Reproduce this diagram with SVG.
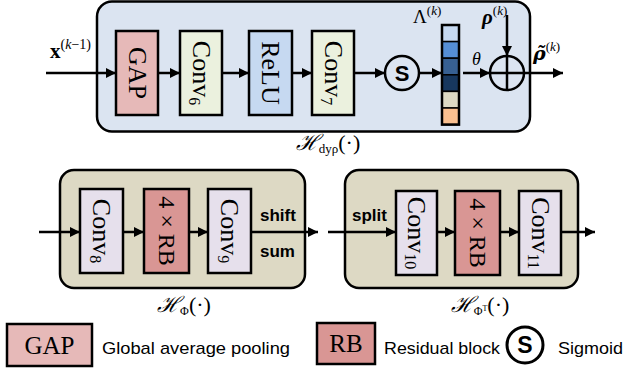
<svg xmlns="http://www.w3.org/2000/svg" width="635" height="370" viewBox="0 0 635 370">
<defs>
<marker id="ah" viewBox="0 0 10 10" refX="10" refY="5" markerWidth="10" markerHeight="10" markerUnits="userSpaceOnUse" orient="auto">
<path d="M0,0 L10,5 L0,10 Z" fill="#000"/>
</marker>
<style>
.cont{stroke:#000;stroke-width:2.5}
.box{stroke:#000;stroke-width:2.5}
.blue{fill:#dbe4f1}
.tan{fill:#ddd9c4}
.gap{fill:#e6b9b8}
.conv{fill:#ebf1de}
.relu{fill:#c6d9f1}
.lav{fill:#e6e0ec}
.rb{fill:#d99694}
.serif{font-family:"Liberation Serif","DejaVu Serif",serif;fill:#000}
.bt{font-family:"Liberation Serif","DejaVu Serif",serif;font-size:26px}
.sans{font-family:"Liberation Sans","Noto Sans",sans-serif;fill:#000}
.lbl{font-family:"Liberation Sans",sans-serif;font-weight:bold;font-size:17px}
.arr{stroke:#000;stroke-width:2.5;fill:none;marker-end:url(#ah)}
.ln{stroke:#000;stroke-width:2.5;fill:none}
</style>
</defs>

<g id="container-top"><rect class="cont blue" x="97" y="1.5" width="433" height="130" rx="15"/></g>
<g id="container-phi"><rect class="cont tan" x="60" y="170" width="245" height="118" rx="14"/></g>
<g id="container-phiT"><rect class="cont tan" x="345" y="170" width="233" height="118" rx="14"/></g>

<g id="connectors">
<line class="arr" x1="46" y1="73" x2="116" y2="73"/>
<line class="arr" x1="158" y1="73" x2="180" y2="73"/>
<line class="arr" x1="222" y1="73" x2="249" y2="73"/>
<line class="arr" x1="292" y1="73" x2="312" y2="73"/>
<line class="arr" x1="354" y1="73" x2="385" y2="73"/>
<line class="arr" x1="419" y1="73" x2="442" y2="73"/>
<line class="arr" x1="463" y1="73" x2="490" y2="73"/>
<line class="arr" x1="524" y1="73" x2="563" y2="73"/>
<line class="arr" x1="507" y1="15" x2="507" y2="56"/>
<line class="arr" x1="39" y1="232" x2="80" y2="232"/>
<line class="arr" x1="123" y1="232" x2="144" y2="232"/>
<line class="arr" x1="189" y1="232" x2="208" y2="232"/>
<line class="arr" x1="251" y1="232" x2="318" y2="232"/>
<line class="arr" x1="328" y1="232" x2="396" y2="232"/>
<line class="arr" x1="437" y1="232" x2="455" y2="232"/>
<line class="arr" x1="500" y1="232" x2="519" y2="232"/>
<line class="arr" x1="561" y1="232" x2="595" y2="232"/>
</g>

<g id="gap"><rect class="box gap" x="116" y="31" width="42" height="84"/>
<text class="bt" transform="translate(137,73) rotate(90)" text-anchor="middle" dominant-baseline="central">GAP</text></g>
<g id="conv6"><rect class="box conv" x="180" y="31" width="42" height="84"/>
<text class="bt" transform="translate(201,73) rotate(90)" text-anchor="middle" dominant-baseline="central">Conv<tspan font-size="16" dy="6">6</tspan></text></g>
<g id="relu"><rect class="box relu" x="249" y="31" width="43" height="84"/>
<text class="bt" transform="translate(270.5,73) rotate(90)" text-anchor="middle" dominant-baseline="central">ReLU</text></g>
<g id="conv7"><rect class="box conv" x="312" y="31" width="42" height="84"/>
<text class="bt" transform="translate(333,73) rotate(90)" text-anchor="middle" dominant-baseline="central">Conv<tspan font-size="16" dy="6">7</tspan></text></g>
<g id="sigmoid"><circle cx="402" cy="73" r="17" fill="none" stroke="#000" stroke-width="2.5"/>
<text class="sans" x="402" y="81" font-size="22" font-weight="bold" text-anchor="middle">S</text></g>
<g id="lambda">
<rect x="442" y="25" width="17" height="16.6" fill="#c6d9f1" stroke="#000" stroke-width="1.5"/>
<rect x="442" y="41.6" width="17" height="16.6" fill="#558ed5" stroke="#000" stroke-width="1.5"/>
<rect x="442" y="58.2" width="17" height="16.6" fill="#376092" stroke="#000" stroke-width="1.5"/>
<rect x="442" y="74.8" width="17" height="16.6" fill="#17375e" stroke="#000" stroke-width="1.5"/>
<rect x="442" y="91.4" width="17" height="16.6" fill="#ddd9c4" stroke="#000" stroke-width="1.5"/>
<rect x="442" y="108" width="17" height="16.6" fill="#fac090" stroke="#000" stroke-width="1.5"/>
<rect x="442" y="25" width="17" height="99.6" fill="none" stroke="#000" stroke-width="2.5"/>
</g>
<g id="plus"><circle cx="507" cy="73" r="17" fill="none" stroke="#000" stroke-width="2.5"/>
<line class="ln" x1="490" y1="73" x2="524" y2="73"/><line class="ln" x1="507" y1="56" x2="507" y2="90"/></g>

<g id="conv8"><rect class="box lav" x="80" y="189" width="43" height="84"/>
<text class="bt" transform="translate(101.5,231) rotate(90)" text-anchor="middle" dominant-baseline="central">Conv<tspan font-size="16" dy="6">8</tspan></text></g>
<g id="rb1"><rect class="box rb" x="144" y="189" width="45" height="84"/>
<text class="bt" transform="translate(166.5,231) rotate(90)" text-anchor="middle" dominant-baseline="central" style="font-size:24px">4 × RB</text></g>
<g id="conv9"><rect class="box lav" x="208" y="189" width="43" height="84"/>
<text class="bt" transform="translate(229.5,231) rotate(90)" text-anchor="middle" dominant-baseline="central">Conv<tspan font-size="16" dy="6">9</tspan></text></g>
<g id="conv10"><rect class="box lav" x="396" y="191" width="41" height="84"/>
<text class="bt" transform="translate(416.5,233) rotate(90)" text-anchor="middle" dominant-baseline="central">Conv<tspan font-size="16" dy="6">10</tspan></text></g>
<g id="rb2"><rect class="box rb" x="455" y="191" width="45" height="84"/>
<text class="bt" transform="translate(477.5,233) rotate(90)" text-anchor="middle" dominant-baseline="central" style="font-size:24px">4 × RB</text></g>
<g id="conv11"><rect class="box lav" x="519" y="191" width="42" height="84"/>
<text class="bt" transform="translate(540,233) rotate(90)" text-anchor="middle" dominant-baseline="central">Conv<tspan font-size="16" dy="6">11</tspan></text></g>

<g id="labels">
<text class="serif" x="50" y="58" font-size="21"><tspan font-weight="bold">x</tspan><tspan font-size="14" dy="-9">(<tspan font-style="italic">k</tspan>−1)</tspan></text>
<text class="serif" x="413" y="23" font-size="19">Λ<tspan font-size="13" dy="-8">(<tspan font-style="italic">k</tspan>)</tspan></text>
<text class="serif" x="482" y="24" font-size="21" font-weight="bold" font-style="italic">ρ<tspan font-size="13" dy="-9" font-weight="normal" font-style="normal">(<tspan font-style="italic">k</tspan>)</tspan></text>
<text class="serif" x="472" y="65" font-size="18" font-style="italic">θ</text>
<text x="533" y="60" font-size="19" font-weight="bold" font-style="italic" style="font-family:'DejaVu Serif',serif">ρ̃<tspan font-size="13" dy="-9" font-weight="normal" font-style="normal" style="font-family:'Liberation Serif',serif">(<tspan font-style="italic">k</tspan>)</tspan></text>
<text class="serif" x="328" y="150" font-size="22" text-anchor="middle"><tspan font-style="italic">ℋ</tspan><tspan font-size="13" dy="3">dyρ</tspan><tspan dy="-3">(·)</tspan></text>
<text class="lbl" x="260" y="221">shift</text>
<text class="lbl" x="260" y="257">sum</text>
<text class="lbl" x="352" y="221">split</text>
<text class="serif" x="184" y="312" font-size="22" text-anchor="middle"><tspan font-style="italic">ℋ</tspan><tspan font-size="12" dy="3">Φ</tspan><tspan dy="-3">(·)</tspan></text>
<text class="serif" x="480" y="312" font-size="22" text-anchor="middle"><tspan font-style="italic">ℋ</tspan><tspan font-size="12" dy="3">Φ</tspan><tspan font-size="8" dy="-4">T</tspan><tspan dy="1">(·)</tspan></text>
</g>

<g id="legend">
<rect class="box gap" x="7" y="324" width="85" height="42"/>
<text class="serif" x="49.5" y="354" font-size="25" text-anchor="middle">GAP</text>
<text class="sans" x="102" y="354" font-size="17" textLength="188" lengthAdjust="spacingAndGlyphs">Global average pooling</text>
<rect class="box rb" x="317" y="323" width="58" height="41"/>
<text class="serif" x="346" y="352" font-size="25" text-anchor="middle">RB</text>
<text class="sans" x="384" y="354" font-size="17" textLength="116" lengthAdjust="spacingAndGlyphs">Residual block</text>
<circle cx="525" cy="345" r="18" fill="none" stroke="#000" stroke-width="3"/>
<text class="sans" x="525" y="353" font-size="23" font-weight="bold" text-anchor="middle">S</text>
<text class="sans" x="558" y="354" font-size="17" textLength="65" lengthAdjust="spacingAndGlyphs">Sigmoid</text>
</g>
</svg>
